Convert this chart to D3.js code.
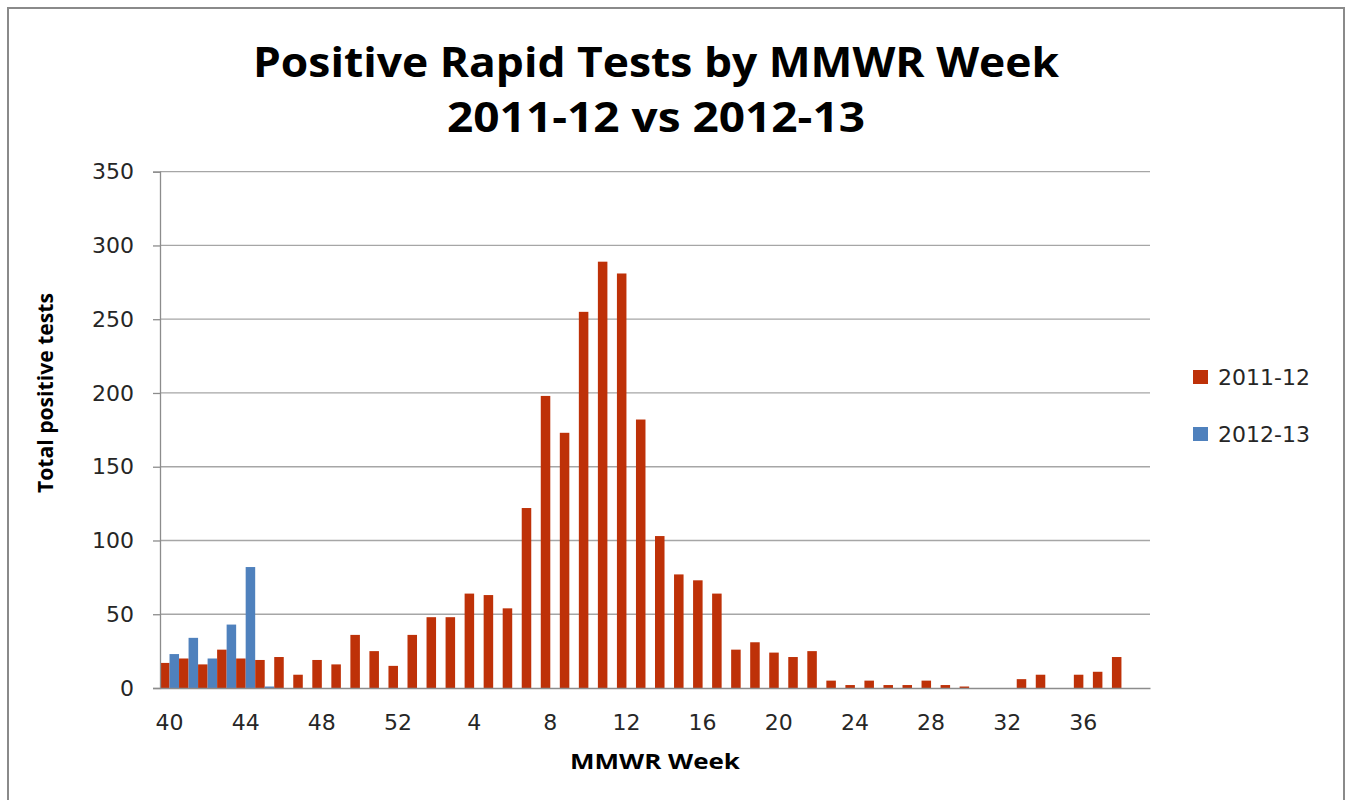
<!DOCTYPE html>
<html>
<head>
<meta charset="utf-8">
<script src="https://cdn.jsdelivr.net/npm/d3@7"></script>
<style>
  html, body { margin: 0; padding: 0; background: #fff; }
  svg { display: block; }
</style>
</head>
<body>
<svg id="chart" width="1351" height="800"></svg>
<script>
// ---- Data ----
const weeks = ["40","41","42","43","44","45","46","47","48","49","50","51","52",
  "1","2","3","4","5","6","7","8","9","10","11","12","13","14","15","16","17","18","19","20",
  "21","22","23","24","25","26","27","28","29","30","31","32","33","34","35","36","37","38","39"];
const series = ["2011-12", "2012-13"];
const values2011 = [17,20,16,26,20,19,21,9,19,16,36,25,15,
  36,48,48,64,63,54,122,198,173,255,289,281,182,103,77,73,64,26,31,24,
  21,25,5,2,5,2,2,5,2,1,0,0,6,9,0,9,11,21,0];
const values2012 = [23,34,20,43,82,1,null,null,null,null,null,null,null,
  null,null,null,null,null,null,null,null,null,null,null,null,null,null,null,null,null,null,null,null,
  null,null,null,null,null,null,null,null,null,null,null,null,null,null,null,null,null,null,null];
const yTicks = [0,50,100,150,200,250,300,350];
const xTickLabels = ["40","44","48","52","4","8","12","16","20","24","28","32","36"];
const colors = ["#BE3108", "#4F81BD"];

// ---- Layout ----
const svg = d3.select("#chart");
const plotLeft = 160, plotRight = 1150, plotTop = 171.7, plotBottom = 688;
const tickFont = "'DejaVu Sans', sans-serif";
const boldFont = "'Open Sans', 'DejaVu Sans', sans-serif";

// chart border
svg.append("rect").attr("x", 8).attr("y", 8).attr("width", 1336).attr("height", 800)
  .attr("fill", "#fff").attr("stroke", "#8a8a8a").attr("stroke-width", 2);

const x = d3.scaleBand().domain(weeks).range([plotLeft, plotRight]).paddingInner(0).paddingOuter(0);
const xs = d3.scaleBand().domain(series).range([0, x.bandwidth()]).padding(0);
const y = d3.scaleLinear().domain([0, 350]).range([plotBottom, plotTop]);

// gridlines
svg.append("g").selectAll("line").data(yTicks.filter(d => d > 0)).join("line")
  .attr("x1", plotLeft).attr("x2", plotRight)
  .attr("y1", d => y(d)).attr("y2", d => y(d))
  .attr("stroke", "#a6a6a6").attr("stroke-width", 1.3);

// bars
const rows = weeks.map((w, i) => ({ week: w, vals: [values2011[i], values2012[i]] }));
const g = svg.append("g");
rows.forEach(r => {
  r.vals.forEach((v, j) => {
    if (v === null || v === undefined || v <= 0) return;
    g.append("rect")
      .attr("x", x(r.week) + xs(series[j]))
      .attr("width", xs.bandwidth())
      .attr("y", y(v))
      .attr("height", y(0) - y(v))
      .attr("fill", colors[j]);
  });
});

// y axis
const yAxis = d3.axisLeft(y).tickValues(yTicks).tickSize(7).tickPadding(19);
const yg = svg.append("g").attr("transform", `translate(${plotLeft},0)`).call(yAxis);
yg.select(".domain").attr("stroke", "#8c8c8c").attr("stroke-width", 1.3);
yg.selectAll(".tick line").attr("stroke", "#8c8c8c").attr("stroke-width", 1.3);
yg.selectAll(".tick text").attr("font-family", tickFont).attr("font-size", 22)
  .attr("fill", "#262626");

// x axis
const xAxis = d3.axisBottom(x).tickValues(weeks.filter((w, i) => i % 4 === 0))
  .tickSize(0).tickPadding(26).tickFormat(d => d);
const xg = svg.append("g").attr("transform", `translate(0,${plotBottom})`).call(xAxis);
xg.select(".domain").attr("stroke", "#8c8c8c").attr("stroke-width", 1.3);
xg.selectAll(".tick text").attr("font-family", tickFont).attr("font-size", 22)
  .attr("fill", "#262626")
  .text((d, i) => xTickLabels[i]);

// title
const title = svg.append("g").attr("font-family", boldFont).attr("font-weight", "bold")
  .attr("font-size", 42).attr("fill", "#000").attr("text-anchor", "middle");
title.append("text").attr("x", 656).attr("y", 77)
  .attr("textLength", 806).attr("lengthAdjust", "spacingAndGlyphs")
  .text("Positive Rapid Tests by MMWR Week");
title.append("text").attr("x", 656).attr("y", 132)
  .attr("textLength", 418).attr("lengthAdjust", "spacingAndGlyphs")
  .text("2011-12 vs 2012-13");

// axis titles
svg.append("text").attr("transform", "translate(53,393) rotate(-90)")
  .attr("text-anchor", "middle").attr("font-family", boldFont).attr("font-weight", "bold")
  .attr("font-size", 21).attr("fill", "#000")
  .attr("textLength", 200).attr("lengthAdjust", "spacingAndGlyphs")
  .text("Total positive tests");
svg.append("text").attr("x", 655).attr("y", 769)
  .attr("text-anchor", "middle").attr("font-family", boldFont).attr("font-weight", "bold")
  .attr("font-size", 21).attr("fill", "#000")
  .attr("textLength", 170).attr("lengthAdjust", "spacingAndGlyphs")
  .text("MMWR Week");

// legend
const legend = svg.append("g");
series.forEach((s, i) => {
  const ly = 377 + i * 57;
  legend.append("rect").attr("x", 1193).attr("y", ly - 7).attr("width", 15).attr("height", 14)
    .attr("fill", colors[i]);
  legend.append("text").attr("x", 1218).attr("y", ly + 8)
    .attr("font-family", tickFont).attr("font-size", 22).attr("fill", "#262626")
    .text(s);
});
</script>
</body>
</html>
